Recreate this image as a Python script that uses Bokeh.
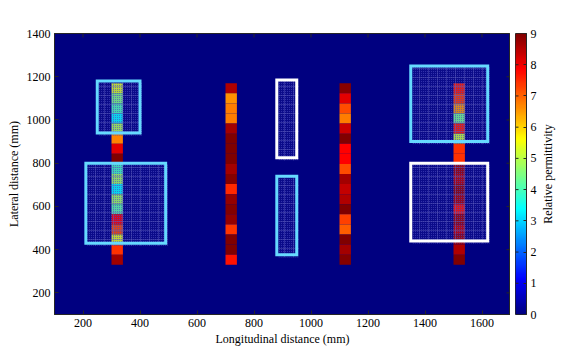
import math
import numpy as np
from bokeh.plotting import figure
from bokeh.models import LinearColorMapper, ColumnDataSource, LinearAxis, FixedTicker, Range1d
from bokeh.layouts import row
from bokeh.embed import file_html
from bokeh.resources import INLINE

# ---------------- data ----------------
col_x = [320, 720, 1120, 1520]
col1 = [5.3, 4.5, 4.05, 3.4, 4.9, 6.7, 8.1, 9.0, 3.95, 4.8, 3.4, 4.8, 4.2, 7.9, 7.2, 5.4, 7.45, 8.7]
col2 = [8.55, 6.6, 6.75, 6.75, 8.65, 9.0, 9.0, 9.0, 8.65, 8.95, 7.5, 8.8, 8.95, 8.8, 7.4, 9.0, 9.0, 7.7]
col3 = [8.9, 8.1, 7.2, 6.75, 8.3, 9.0, 7.85, 7.85, 7.2, 8.65, 8.4, 8.55, 9.0, 7.3, 7.05, 9.0, 8.65, 8.95]
col4 = [7.6, 7.3, 6.5, 4.4, 7.6, 5.1, 7.45, 7.45, 8.7, 8.5, 8.8, 8.6, 7.7, 8.7, 8.4, 8.7, 8.55, 9.0]
columns = [col1, col2, col3, col4]
cell_top = 1170
cell_bottom = 330
cell_width = 40

box_left = [250, 210, 880, 880, 1350, 1350]
box_right = [400, 490, 950, 950, 1620, 1620]
box_bottom = [940, 430, 825, 377, 900, 440]
box_top = [1180, 800, 1185, 740, 1250, 800]
box_color = ["#66d9ff", "#66d9ff", "#ffffff", "#66d9ff", "#66d9ff", "#ffffff"]

x_ticks = [200, 400, 600, 800, 1000, 1200, 1400, 1600]
y_ticks = [200, 400, 600, 800, 1000, 1200, 1400]
cb_ticks = [0, 1, 2, 3, 4, 5, 6, 7, 8, 9]

# ---------------- jet palette ----------------
def jet_hex(t):
    r = np.clip(1.5 - abs(4 * t - 3), 0, 1)
    g = np.clip(1.5 - abs(4 * t - 2), 0, 1)
    b = np.clip(1.5 - abs(4 * t - 1), 0, 1)
    return "#%02x%02x%02x" % (int(round(r * 255)), int(round(g * 255)), int(round(b * 255)))

jet = [jet_hex(t) for t in np.linspace(0, 1, 256)]
mapper = LinearColorMapper(palette=jet, low=0, high=9)

FONT = "Liberation Serif"
AXC = "#262626"
H = 351
TOP, BOT = 33, 37

# ---------------- main figure ----------------
p = figure(width=510, height=H, output_backend="svg", toolbar_location=None,
           x_range=Range1d(100, 1700), y_range=Range1d(100, 1400),
           min_border_left=54, min_border_top=TOP, min_border_bottom=BOT, min_border_right=0)
p.background_fill_color = jet[0]
p.border_fill_color = "white"
p.outline_line_color = AXC
p.grid.visible = False

n = len(col1)
h = (cell_top - cell_bottom) / n
xs, ys, vs = [], [], []
for cx, vals in zip(col_x, columns):
    for i, v in enumerate(vals):
        xs.append(cx)
        ys.append(cell_top - h * (i + 0.5))
        vs.append(v)
src = ColumnDataSource(dict(x=xs, y=ys, v=vs))
p.rect(x="x", y="y", width=cell_width, height=h, source=src,
       fill_color={"field": "v", "transform": mapper}, line_color=None)

# texture inside boxes
tex = ColumnDataSource(dict(
    l=[b + 5 for b in box_left], r=[b + 7 for b in box_right],
    b=[b - 12 for b in box_bottom], t=[b - 5 for b in box_top]))
p.quad(left="l", right="r", bottom="b", top="t", source=tex, fill_color="#3232a8",
       fill_alpha=0.22, line_color=None, hatch_pattern="dot", hatch_scale=2,
       hatch_color="#4848c0", hatch_alpha=0.8)
p.quad(left="l", right="r", bottom="b", top="t", source=tex, fill_alpha=0,
       line_color=None, hatch_pattern="cross", hatch_scale=9,
       hatch_color="#6464c0", hatch_alpha=0.38, hatch_weight=1)

boxes = ColumnDataSource(dict(l=box_left, r=box_right, b=box_bottom, t=box_top, c=box_color))
p.quad(left="l", right="r", bottom="b", top="t", source=boxes, fill_alpha=0,
       line_color="c", line_width=3, line_join="miter")

for ax in [p.xaxis[0], p.yaxis[0]]:
    ax.axis_line_color = AXC
    ax.major_tick_line_color = AXC
    ax.major_tick_in = 4
    ax.major_tick_out = 0
    ax.minor_tick_line_color = None
    ax.major_label_text_font = FONT
    ax.major_label_text_font_size = "12px"
    ax.major_label_text_color = "black"
    ax.axis_label_text_font = FONT
    ax.axis_label_text_font_size = "12px"
    ax.axis_label_text_font_style = "normal"
    ax.axis_label_text_color = "black"
p.xaxis[0].ticker = FixedTicker(ticks=x_ticks)
p.yaxis[0].ticker = FixedTicker(ticks=y_ticks)
p.xaxis[0].axis_label = "Longitudinal distance (mm)"
p.yaxis[0].axis_label = "Lateral distance (mm)"
p.xaxis[0].major_label_standoff = 4
p.yaxis[0].major_label_standoff = 4
p.xaxis[0].axis_label_standoff = 2
p.yaxis[0].axis_label_standoff = 3

# inward ticks on the right and top edges of the frame
p.ray(x=[p.x_range.end] * len(y_ticks), y=y_ticks, length=4, length_units="screen",
      angle=math.pi, line_color=AXC, line_width=1)
p.ray(x=x_ticks, y=[p.y_range.end] * len(x_ticks), length=4, length_units="screen",
      angle=-math.pi / 2, line_color=AXC, line_width=1)

# ---------------- colorbar figure ----------------
cb = figure(width=29, height=H, output_backend="svg", toolbar_location=None,
            x_range=Range1d(0, 1), y_range=Range1d(0, 9),
            min_border_left=5, min_border_right=12, min_border_top=TOP, min_border_bottom=BOT)
cb.grid.visible = False
cb.xaxis.visible = False
cb.yaxis.visible = False
cb.outline_line_color = AXC
cb.border_fill_color = "white"
grad = np.linspace(0, 9, 256).reshape(-1, 1)
cb.image(image=[grad], x=0, y=0, dw=1, dh=9, color_mapper=mapper)
cb.ray(x=[0] * len(cb_ticks), y=cb_ticks, length=3, length_units="screen",
       angle=0, line_color=AXC, line_width=1)
cax = LinearAxis(ticker=FixedTicker(ticks=cb_ticks), major_tick_in=3, major_tick_out=0,
                 minor_tick_line_color=None, axis_line_color=AXC,
                 major_tick_line_color=AXC, major_label_text_font=FONT,
                 major_label_text_font_size="12px", major_label_text_color="black",
                 major_label_standoff=4)
cb.add_layout(cax, "right")

# ---------------- colorbar title (reads bottom to top) ----------------
lab = figure(width=15, height=H, output_backend="svg", toolbar_location=None,
             x_range=Range1d(0, 1), y_range=Range1d(0, 1),
             min_border_left=8, min_border_right=0, min_border_top=TOP, min_border_bottom=BOT)
lab.grid.visible = False
lab.xaxis.visible = False
lab.outline_line_color = None
lab.background_fill_color = "white"
lab.border_fill_color = "white"
lax = lab.yaxis[0]
lax.ticker = FixedTicker(ticks=[])
lax.axis_line_color = None
lax.major_tick_line_color = None
lax.minor_tick_line_color = None
lax.axis_label = "Relative permittivity"
lax.axis_label_standoff = 0
lax.axis_label_text_font = FONT
lax.axis_label_text_font_size = "12px"
lax.axis_label_text_font_style = "normal"
lax.axis_label_text_color = "black"

layout = row(p, cb, lab)
open("out.html", "w").write(file_html(layout, INLINE))
